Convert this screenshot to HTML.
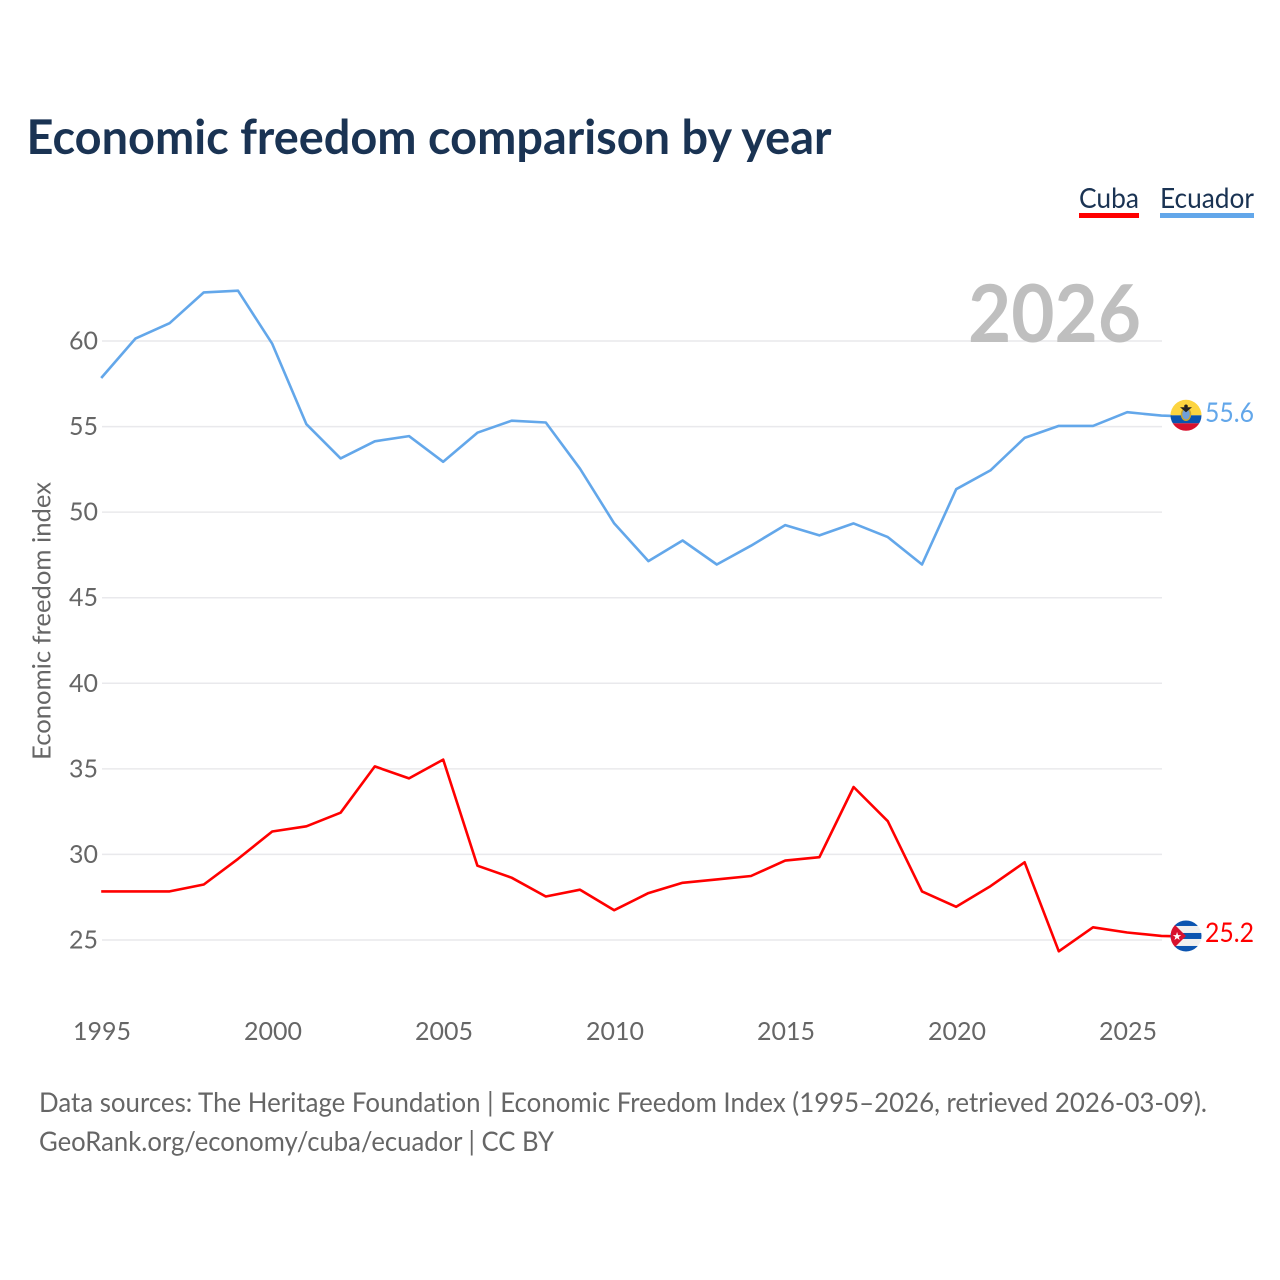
<!DOCTYPE html>
<html lang="en">
<head>
<meta charset="utf-8">
<title>Economic freedom comparison by year</title>
<style>
html,body{margin:0;padding:0;background:#fff}
svg{display:block}
text{font-family:"Lato","Carlito","Liberation Sans",sans-serif;font-variant-ligatures:none}
</style>
</head>
<body>
<svg id="chart" xmlns="http://www.w3.org/2000/svg" width="1280" height="1280" viewBox="0 0 1280 1280">
<defs>
<clipPath id="flag-clip-ec"><circle id="clip-ec" cx="1186" cy="415" r="15.5"/></clipPath>
<clipPath id="flag-clip-cu"><circle id="clip-cu" cx="1186" cy="936" r="15.5"/></clipPath>
</defs>
<rect width="1280" height="1280" fill="#fff"/>
<text x="26.5" y="154" font-size="48" font-weight="700" fill="#1a3353" textLength="805" lengthAdjust="spacingAndGlyphs">Economic freedom comparison by year</text>
<g id="grid"></g>
<text x="968" y="342" font-size="80" font-weight="700" fill="#bfbfbf" textLength="173" lengthAdjust="spacingAndGlyphs">2026</text>
<g id="y-axis"></g>
<g id="x-axis"></g>
<text transform="translate(50.5,760) rotate(-90)" font-size="25" fill="#666" textLength="278" lengthAdjust="spacingAndGlyphs">Economic freedom index</text>
<g id="series"></g>

<g>
<text x="1079" y="208" font-size="28.5" fill="#1a3353" textLength="60" lengthAdjust="spacingAndGlyphs">Cuba</text>
<rect x="1079" y="213" width="60" height="5" fill="#ff0000"/>
</g>
<g>
<text x="1160" y="208" font-size="28.5" fill="#1a3353" textLength="94" lengthAdjust="spacingAndGlyphs">Ecuador</text>
<rect x="1160" y="213" width="94" height="5" fill="#63a7ea"/>
</g>

<g id="flag-ec" clip-path="url(#flag-clip-ec)"></g>
<g id="flag-cu" clip-path="url(#flag-clip-cu)"></g>
<text id="end-ec" x="1205" y="422" font-size="27" fill="#63a7ea" textLength="49" lengthAdjust="spacingAndGlyphs"></text>
<text id="end-cu" x="1205" y="942" font-size="27" fill="#ff0000" textLength="49" lengthAdjust="spacingAndGlyphs"></text>

<text x="39" y="1112" font-size="27.5" fill="#666" textLength="1168" lengthAdjust="spacingAndGlyphs">Data sources: The Heritage Foundation | Economic Freedom Index (1995–2026, retrieved 2026-03-09).</text>
<text x="39" y="1151" font-size="27.5" fill="#666" textLength="515" lengthAdjust="spacingAndGlyphs">GeoRank.org/economy/cuba/ecuador | CC BY</text>
</svg>
<script>
const years = [1995,1996,1997,1998,1999,2000,2001,2002,2003,2004,2005,2006,2007,2008,2009,2010,2011,2012,2013,2014,2015,2016,2017,2018,2019,2020,2021,2022,2023,2024,2025,2026];
const ecuadorValues = [57.8,60.1,61.0,62.8,62.9,59.8,55.1,53.1,54.1,54.4,52.9,54.6,55.3,55.2,52.5,49.3,47.1,48.3,46.9,48.0,49.2,48.6,49.3,48.5,46.9,51.3,52.4,54.3,55.0,55.0,55.8,55.6];
const cubaValues = [27.8,27.8,27.8,28.2,29.7,31.3,31.6,32.4,35.1,34.4,35.5,29.3,28.6,27.5,27.9,26.7,27.7,28.3,28.5,28.7,29.6,29.8,33.9,31.9,27.8,26.9,28.1,29.5,24.3,25.7,25.4,25.2];
const yTicks = [25,30,35,40,45,50,55,60];
const xTicks = [1995,2000,2005,2010,2015,2020,2025];

const SVG_NS = 'http://www.w3.org/2000/svg';
function xScale(year){ return 101.2 + (year - 1995) * 34.2; }
function yScale(value){ return 940 - (value - 25) * 17.114; }
function make(parent, tag, attrs, text){
  const el = document.createElementNS(SVG_NS, tag);
  for (const k in attrs) el.setAttribute(k, attrs[k]);
  if (text !== undefined) el.textContent = text;
  parent.appendChild(el);
  return el;
}

const grid = document.getElementById('grid');
const yAxis = document.getElementById('y-axis');
yTicks.forEach(function(t){
  const line = make(grid, 'line', {x1:102, x2:1162, y1:yScale(t), y2:yScale(t), stroke:'#e9e9ec', 'stroke-width':1.5});
  
  
  const label = make(yAxis, 'text', {x:98, y:yScale(t) + 8.5, 'font-size':25, fill:'#666', 'text-anchor':'end', textLength:29, lengthAdjust:'spacingAndGlyphs'}, t);
  
  
});

const xAxis = document.getElementById('x-axis');
xTicks.forEach(function(t){
  const label = make(xAxis, 'text', {x:xScale(t) + 0.8, y:1040, 'font-size':25, fill:'#666', 'text-anchor':'middle', textLength:58, lengthAdjust:'spacingAndGlyphs'}, t);
  
  
});

const seriesGroup = document.getElementById('series');
function drawSeries(values, color, name){
  const last = values.length - 1;
  let d = values.map(function(v, i){ return (i ? 'L' : 'M') + xScale(years[i]).toFixed(1) + ' ' + (yScale(v) - 0.7).toFixed(1); }).join(' ');
  d += ' L1172 ' + (yScale(values[last]) - 0.4).toFixed(1);
  const path = make(seriesGroup, 'path', {d:d, fill:'none', stroke:color, 'stroke-width':2.6, 'stroke-linejoin':'round'});
  
  
}
drawSeries(cubaValues, '#ff0000', 'line-cuba');
drawSeries(ecuadorValues, '#63a7ea', 'line-ecuador');

const lastEc = ecuadorValues[ecuadorValues.length - 1];
const lastCu = cubaValues[cubaValues.length - 1];
document.getElementById('end-ec').textContent = lastEc.toFixed(1);
document.getElementById('end-cu').textContent = lastCu.toFixed(1);

const fx = 1186 - 16;
const ecY = yScale(lastEc) - 1;
const cuY = yScale(lastCu) - 0.6;
const fe = document.getElementById('flag-ec');
document.getElementById('clip-ec').setAttribute('cy', ecY);
make(fe, 'rect', {x:fx, y:ecY-16, width:32, height:16, fill:'#fcd440'});
make(fe, 'rect', {x:fx, y:ecY, width:32, height:8, fill:'#0b54b0'});
make(fe, 'rect', {x:fx, y:ecY+8, width:32, height:8, fill:'#d8112e'});
make(fe, 'ellipse', {cx:1186, cy:ecY-1, rx:4.5, ry:6, fill:'#6f9fd8', stroke:'#c9a52c', 'stroke-width':1.5});
make(fe, 'path', {d:'M1180 ' + (ecY-8) + ' L1192 ' + (ecY-8) + ' L1186 ' + (ecY-3) + ' Z', fill:'#222'});
make(fe, 'circle', {cx:1186, cy:ecY-9, r:1.8, fill:'#222'});

const fc = document.getElementById('flag-cu');
document.getElementById('clip-cu').setAttribute('cy', cuY);
make(fc, 'rect', {x:fx, y:cuY-16, width:32, height:32, fill:'#f0f0f0'});
[-16,-3,10].forEach(function(o){
  make(fc, 'rect', {x:fx, y:cuY+o, width:32, height:6, fill:'#0b54b0'});
});
make(fc, 'path', {d:'M' + (fx+1) + ' ' + (cuY-15) + ' L' + (fx+16) + ' ' + cuY + ' L' + (fx+1) + ' ' + (cuY+15) + ' Z', fill:'#d8112e'});
make(fc, 'text', {x:fx+7, y:cuY+4, 'font-size':11, fill:'#fff', 'text-anchor':'middle'}, '★');
</script>
</body>
</html>
